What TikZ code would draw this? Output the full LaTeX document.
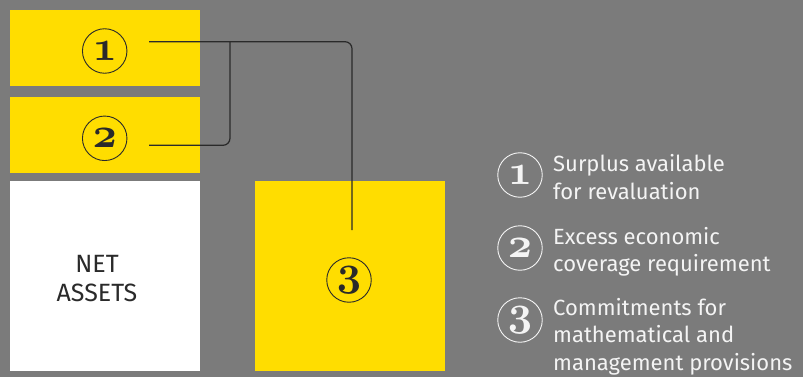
\documentclass[tikz,border=0pt]{standalone}
\usepackage{fontspec}
\setmainfont{Fira Sans}
\definecolor{bg}{HTML}{7B7B7B}
\definecolor{yel}{HTML}{FFDD00}
\definecolor{ink}{HTML}{2A2A2A}
\definecolor{paper}{HTML}{F4F4F4}
% bold old-style figure taken from the OML (math italic) font
\newcommand\ofig[1]{\scalebox{1.7}{\fontencoding{OML}\fontfamily{cmm}\fontseries{b}\fontshape{it}\fontsize{24.88}{25}\selectfont #1}}
\tikzset{
  panel/.style={inner sep=0pt, outer sep=0pt},
  numc/.style={circle, draw=ink, line width=0.9pt, minimum size=44.5pt, inner sep=0pt, text=ink},
  legc/.style={circle, draw=paper, line width=0.9pt, minimum size=44.5pt, inner sep=0pt, text=paper},
  legtext/.style={anchor=base west, align=left, inner sep=0pt, text=paper,
    font=\fontsize{22}{27.5}\selectfont},
  conn/.style={draw=ink, line width=1.2pt, rounded corners=7pt},
}
\begin{document}
\begin{tikzpicture}[x=1pt, y=-1pt]
\fill[bg] (0,0) rectangle (803,377);
\useasboundingbox (0,0) rectangle (803,377);

% stacked blocks
\node[panel, fill=yel, minimum width=190pt, minimum height=76pt] (b1) at (105,48) {};
\node[panel, fill=yel, minimum width=190pt, minimum height=76pt] (b2) at (105,135) {};
\node[panel, fill=white, minimum width=190pt, minimum height=190pt] (na) at (105,276) {};
\node[panel, fill=yel, minimum width=190pt, minimum height=190pt] (b3) at (350,276) {};

\node[inner sep=0pt, align=center, text=ink, font=\fontsize{25}{29}\selectfont] (nat) at (97,279) {NET\\ASSETS};

% numbered markers
\node[numc] (n1) at (104.7,51) {\ofig{1}};
\node[numc] (n2) at (104.7,138.3) {\ofig{2}};
\node[numc] (n3) at (349,280) {\ofig{3}};

% leader lines
\coordinate (s1) at (149,41.7);
\coordinate (s2) at (149,145.3);
\coordinate (j) at (230,41.7);
\coordinate (e3) at (352,230);
\draw[conn] (s1) -| (e3);
\draw[conn] (s2) -| (j);

% legend (anchored at the baseline of each entry's last line)
\node[legc] (l1) at (520,175) {\ofig{1}};
\node[legc] (l2) at (520,248) {\ofig{2}};
\node[legc] (l3) at (520,320) {\ofig{3}};
\node[legtext] (t1) at (553,199) {Surplus available\\for revaluation};
\node[legtext] (t2) at (553,271.5) {Excess economic\\coverage requirement};
\node[legtext] (t3) at (553,370) {Commitments for\\mathematical and\\management provisions};
\end{tikzpicture}
\end{document}
